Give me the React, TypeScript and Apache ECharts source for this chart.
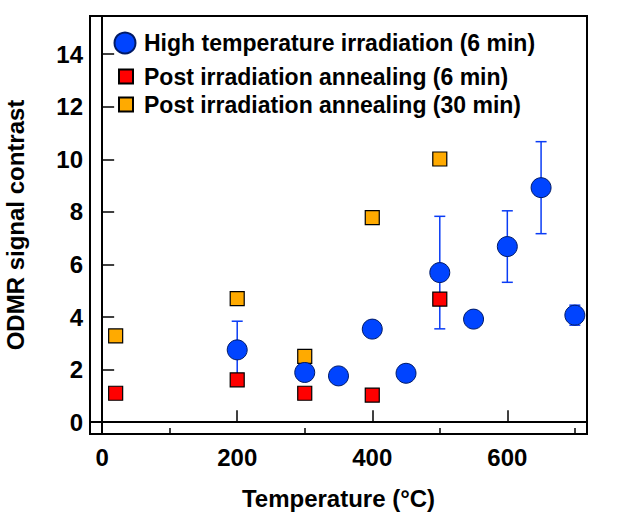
import React, { useEffect, useRef } from "react";
import * as echarts from "echarts";

const highTempX = [200, 300, 350, 400, 450, 500, 550, 600, 650, 700];
const highTempY = [2.75, 1.89, 1.76, 3.54, 1.86, 5.69, 3.92, 6.68, 8.92, 4.07];
const highTempErr = [1.09, 0, 0, 0, 0, 2.14, 0, 1.36, 1.75, 0.38];

const anneal6X = [20, 200, 300, 400, 500];
const anneal6Y = [1.1, 1.61, 1.1, 1.03, 4.68];

const anneal30X = [20, 200, 300, 400, 500];
const anneal30Y = [3.28, 4.7, 2.5, 7.78, 10.01];

const xMajorTicks = [0, 200, 400, 600];
const xMinorTicks = [100, 300, 500, 700];
const yTicks = [0, 2, 4, 6, 8, 10, 12, 14];

const names = [
  "High temperature irradiation (6 min)",
  "Post irradiation annealing (6 min)",
  "Post irradiation annealing (30 min)",
];

const FONT = "'Liberation Sans', Arial, sans-serif";

export default function App() {
  const ref = useRef<HTMLDivElement>(null);
  useEffect(() => {
    if (!ref.current) return;
    const chart = echarts.init(ref.current, null, { renderer: "svg" });
    const errData = highTempX
      .map((x, i) => [x, highTempY[i] - highTempErr[i], highTempY[i] + highTempErr[i]])
      .filter((_, i) => highTempErr[i] > 0);
    const textStyle = { fontFamily: FONT, fontWeight: "bold" as const, fontSize: 23, color: "#000" };
    const xMin = -18;
    const xMax = 718;
    const option: any = {
      animation: false,
      backgroundColor: "#fff",
      grid: {
        left: 90,
        top: 16,
        width: 497,
        height: 418,
        show: true,
        borderColor: "#000",
        borderWidth: 2,
        backgroundColor: "transparent",
        containLabel: false,
        outerBoundsMode: "none",
      },
      legend: [0, 1, 2].map((i) => ({
        data: [names[i]],
        left: i === 0 ? 113.5 : 118,
        top: [42, 72, 100][i] - (i === 0 ? 10.5 : 7),
        itemWidth: i === 0 ? 21 : 14,
        itemHeight: i === 0 ? 21 : 14,
        itemGap: 0,
        textStyle: { ...textStyle, padding: [0, 0, 0, i === 0 ? 3.5 : 6] },
        selectedMode: false,
        padding: 0,
      })),
      xAxis: [
        {
          type: "value",
          min: xMin,
          max: xMax,
          name: "Temperature (°C)",
          nameLocation: "middle",
          nameGap: 52,
          nameTextStyle: { ...textStyle, fontSize: 24 },
          axisLine: { show: true, lineStyle: { color: "#000", width: 2 } },
          axisTick: { show: true, inside: true, length: 12, customValues: xMajorTicks, lineStyle: { color: "#000", width: 1.5 } },
          axisLabel: { customValues: xMajorTicks, margin: 11, ...textStyle, fontSize: 24 },
          splitLine: { show: false },
        },
        {
          type: "value",
          min: xMin,
          max: xMax,
          position: "bottom",
          axisLine: { show: false },
          axisTick: { show: true, inside: true, length: 6, customValues: xMinorTicks, lineStyle: { color: "#000", width: 1.5 } },
          axisLabel: { show: false },
          splitLine: { show: false },
        },
      ],
      yAxis: {
        type: "value",
        min: -0.45,
        max: 15.45,
        name: "ODMR signal contrast",
        nameLocation: "middle",
        nameGap: 63,
        nameTextStyle: { ...textStyle, fontSize: 24 },
        axisLine: { show: true, lineStyle: { color: "#000", width: 2 } },
        axisTick: { show: true, inside: true, length: 12, customValues: yTicks, lineStyle: { color: "#000", width: 1.5 } },
        axisLabel: { customValues: yTicks, margin: 7, ...textStyle, fontSize: 24 },
        splitLine: { show: false },
      },
      series: [
        {
          type: "custom",
          name: "err",
          data: errData,
          z: 1,
          renderItem: (params: any, api: any) => {
            const x = api.value(0);
            const lo = api.coord([x, api.value(1)]);
            const hi = api.coord([x, api.value(2)]);
            const cap = 5.5;
            const style = { stroke: "#0a3cf5", lineWidth: 1.5 };
            return {
              type: "group",
              children: [
                { type: "line", shape: { x1: lo[0], y1: lo[1], x2: hi[0], y2: hi[1] }, style },
                { type: "line", shape: { x1: lo[0] - cap, y1: lo[1], x2: lo[0] + cap, y2: lo[1] }, style },
                { type: "line", shape: { x1: hi[0] - cap, y1: hi[1], x2: hi[0] + cap, y2: hi[1] }, style },
              ],
            };
          },
          encode: { x: 0, y: [1, 2] },
        },
        {
          type: "scatter",
          name: names[2],
          data: anneal30X.map((x, i) => [x, anneal30Y[i]]),
          symbol: "rect",
          symbolSize: 14,
          itemStyle: { color: "#ffaa00", borderColor: "#000", borderWidth: 1.2, opacity: 1 },
          z: 3,
        },
        {
          type: "scatter",
          name: names[1],
          data: anneal6X.map((x, i) => [x, anneal6Y[i]]),
          symbol: "rect",
          symbolSize: 14,
          itemStyle: { color: "#ff0000", borderColor: "#000", borderWidth: 1.2, opacity: 1 },
          z: 3,
        },
        {
          type: "scatter",
          name: names[0],
          data: highTempX.map((x, i) => [x, highTempY[i]]),
          symbol: "circle",
          symbolSize: 20,
          itemStyle: { color: "#0044ff", borderColor: "#001a66", borderWidth: 1, opacity: 1 },
          z: 4,
        },
      ],
    };
    chart.setOption(option);
    return () => chart.dispose();
  }, []);
  return <div ref={ref} style={{ width: 640, height: 513, position: "absolute", left: 0, top: 0 }} />;
}
